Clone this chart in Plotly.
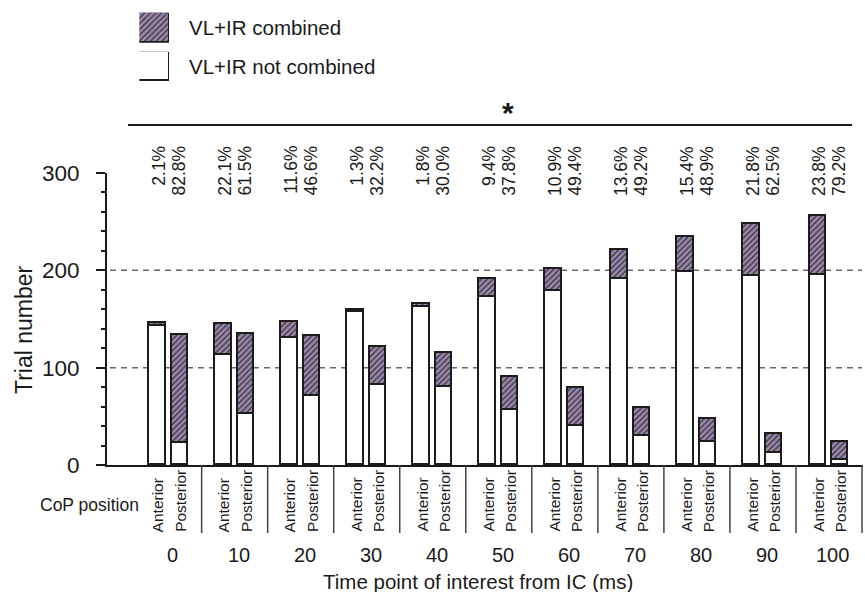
import plotly.graph_objects as go

W, H = 865, 592
FONT = "Liberation Sans, Arial, Helvetica, sans-serif"
INK = "#1a1a1a"

# ---- data -------------------------------------------------------------
time_points = [0, 10, 20, 30, 40, 50, 60, 70, 80, 90, 100]
cop_positions = ["Anterior", "Posterior"]

anterior_combined = [3, 32, 17, 2, 3, 18, 22, 30, 36, 54, 61]
anterior_not_combined = [143, 113, 130, 157, 162, 173, 179, 191, 198, 194, 195]
posterior_combined = [111, 83, 62, 39, 35, 34, 39, 29, 23, 20, 19]
posterior_not_combined = [23, 52, 71, 82, 80, 56, 40, 30, 24, 12, 5]

anterior_pct_labels = ["2.1%", "22.1%", "11.6%", "1.3%", "1.8%", "9.4%",
                       "10.9%", "13.6%", "15.4%", "21.8%", "23.8%"]
posterior_pct_labels = ["82.8%", "61.5%", "46.6%", "32.2%", "30.0%", "37.8%",
                        "49.4%", "49.2%", "48.9%", "62.5%", "79.2%"]

y_ticks = [0, 100, 200, 300]
ref_lines = [100, 200]
series_names = ["VL+IR combined", "VL+IR not combined"]

# ---- styling ------------------------------------------------------------
HATCH_BG = "#9a8ba8"
HATCH_FG = "#3c3247"
OUTLINE = dict(color="#1c1c1c", width=1.8)
hatch = dict(shape="/", bgcolor=HATCH_BG, fgcolor=HATCH_FG, size=4,
             solidity=0.35, fillmode="replace")
BAR_W = 0.25
OFFSET = 0.17


def px(x):
    return x / W


def py(y):
    return 1 - y / H


groups = list(range(len(time_points)))
ant_x = [g - OFFSET for g in groups]
post_x = [g + OFFSET for g in groups]
bar_x = ant_x + post_x

fig = go.Figure()
fig.add_trace(go.Bar(
    x=bar_x, y=anterior_not_combined + posterior_not_combined,
    width=BAR_W, name=series_names[1],
    marker=dict(color="white", line=OUTLINE), showlegend=False,
))
fig.add_trace(go.Bar(
    x=bar_x, y=anterior_combined + posterior_combined,
    width=BAR_W, name=series_names[0],
    marker=dict(color=HATCH_BG, pattern=hatch, line=OUTLINE), showlegend=False,
))

# legend swatches drawn as single bars in their own small axes
swatch_boxes = [(139.3, 169.0, 12.7, 42.7), (139.3, 169.0, 51.7, 81.0)]
swatch_markers = [dict(color=HATCH_BG, pattern=hatch, line=OUTLINE),
                  dict(color="white", line=OUTLINE)]
for k, ((x0, x1, y0, y1), mk) in enumerate(zip(swatch_boxes, swatch_markers), start=2):
    fig.add_trace(go.Bar(x=[0], y=[1], width=1, marker=mk, xaxis=f"x{k}",
                         yaxis=f"y{k}", showlegend=False, cliponaxis=False,
                         hoverinfo="skip"))
    fig.update_layout({
        f"xaxis{k}": dict(domain=[px(x0), px(x1)], range=[-0.5, 0.5],
                          visible=False, anchor=f"y{k}", fixedrange=True),
        f"yaxis{k}": dict(domain=[py(y1), py(y0)], range=[0, 1],
                          visible=False, anchor=f"x{k}", fixedrange=True),
    })

annotations = []
# legend labels
for name, (_, _, y0, y1) in zip(series_names, swatch_boxes):
    annotations.append(dict(text=name, xref="paper", yref="paper", x=px(187),
                            y=py((y0 + y1) / 2), xanchor="left", yanchor="middle",
                            showarrow=False, font=dict(size=20.5, color=INK)))

# percentage of combined activation above each bar pair
for g, a_txt, p_txt in zip(groups, anterior_pct_labels, posterior_pct_labels):
    for xv, txt in ((g - OFFSET + 0.02, a_txt), (g + OFFSET - 0.02, p_txt)):
        annotations.append(dict(text=txt, xref="x", yref="paper", x=xv, y=py(144),
                                xanchor="center", yanchor="top", textangle=-90,
                                showarrow=False, font=dict(size=17.5, color=INK)))
    # CoP position labels below the axis
    for xv, txt in zip((g - OFFSET, g + OFFSET), cop_positions):
        annotations.append(dict(text=txt, xref="x", yref="paper", x=xv, y=py(534),
                                xanchor="center", yanchor="bottom", textangle=-90,
                                showarrow=False, font=dict(size=15.5, color=INK)))
    annotations.append(dict(text=str(time_points[g]), xref="x", yref="paper",
                            x=g + 0.06, y=py(555), xanchor="center", yanchor="middle",
                            showarrow=False, font=dict(size=20, color=INK)))

annotations += [
    dict(text="<b>*</b>", xref="paper", yref="paper", x=px(508), y=py(112),
         xanchor="center", yanchor="middle", showarrow=False,
         font=dict(size=30, color=INK)),
    dict(text="CoP position", xref="paper", yref="paper", x=px(89), y=py(505),
         xanchor="center", yanchor="middle", showarrow=False,
         font=dict(size=17.5, color=INK)),
    dict(text="Time point of interest from IC (ms)", xref="paper", yref="paper",
         x=px(478), y=py(581), xanchor="center", yanchor="middle", showarrow=False,
         font=dict(size=20.5, color=INK)),
    dict(text="Trial number", xref="paper", yref="paper", x=px(24), y=py(330),
         xanchor="center", yanchor="middle", textangle=-90, showarrow=False,
         font=dict(size=23, color=INK)),
]

shapes = []
for v in ref_lines:
    shapes.append(dict(type="line", xref="paper", yref="y", x0=px(110), x1=px(862),
                       y0=v, y1=v, layer="below",
                       line=dict(color="#666666", width=1.5, dash="6px,5px")))
for g in groups:
    shapes.append(dict(type="line", xref="x", yref="paper", x0=g + 0.5, x1=g + 0.5,
                       y0=py(465), y1=py(533), line=dict(color="#444444", width=1.5)))
# significance bracket
shapes.append(dict(type="line", xref="paper", yref="paper", x0=px(128), x1=px(852),
                   y0=py(125), y1=py(125), line=dict(color=INK, width=2)))

fig.update_layout(
    width=W, height=H,
    margin=dict(l=0, r=0, t=0, b=0, pad=0, autoexpand=False),
    paper_bgcolor="white", plot_bgcolor="white",
    font=dict(family=FONT, color=INK),
    barmode="stack", bargap=0,
    showlegend=False,
    xaxis=dict(domain=[px(107), px(863)], range=[-0.933, 10.515],
               showline=True, linecolor=INK, linewidth=2, ticks="",
               showticklabels=False, showgrid=False, zeroline=False,
               automargin=False, fixedrange=True),
    yaxis=dict(domain=[py(465), py(173)], range=[0, 300],
               showline=True, linecolor=INK, linewidth=2,
               tickvals=y_ticks, ticks="outside", ticklen=9, tickwidth=2,
               tickcolor=INK, tickfont=dict(size=22.5, color=INK),
               ticklabelstandoff=12, automargin=False,
               minor=dict(ticks="outside", ticklen=4.5, tickwidth=1.5,
                          tickcolor=INK, dtick=20, tick0=0, showgrid=False),
               showgrid=False, zeroline=False, fixedrange=True),
    annotations=annotations,
    shapes=shapes,
)

fig.write_html("out.html")
